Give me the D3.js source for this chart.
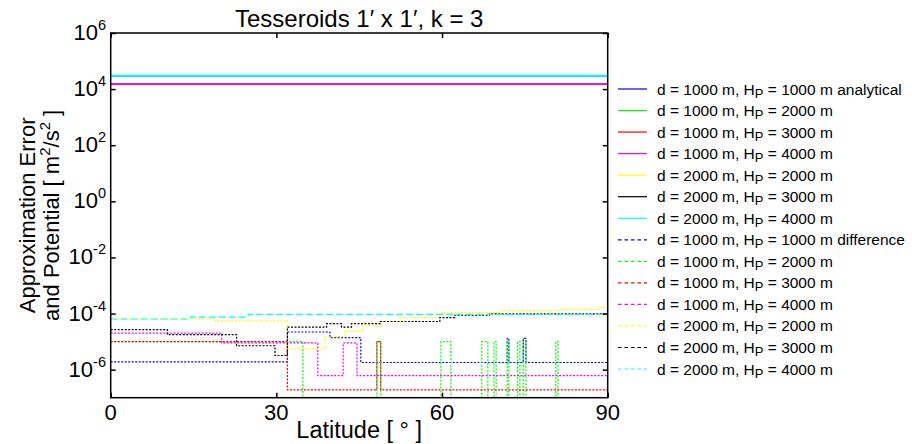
<!DOCTYPE html>
<html><head><meta charset="utf-8">
<script src="https://cdn.jsdelivr.net/npm/d3@7"></script>
<style>
body{margin:0;background:#fff}
svg{display:block;font-family:"Liberation Sans",Arial,sans-serif}
</style>
</head><body>
<svg id="c" width="912" height="444"></svg>
<script>
// ---------- data (latitude breakpoints in degrees, values in m^2/s^2) ----------
const xTicks = [0, 30, 60, 90];
const yTickExps = [-6, -4, -2, 0, 2, 4, 6];

const potLat = [0, 90];
const potD1000 = [1.5e4, 1.5e4];
const potD2000 = [3.0e4, 3.0e4];

const blueLat = [0, 32.0, 39.7, 45.3, 71.8, 72.1, 74.7, 75.2, 90];
const blueVal = [1.9e-6, 2.2e-5, 1.38e-5, 1.8e-6, 1.3e-5, 1.8e-6, 1.3e-5, 1.8e-6, 0.9];

const greenLat = [0, 34.8, 48.2, 48.9, 59.8, 61.6, 67.2, 68.3, 69.4, 69.8, 71.8, 72.1, 73.7, 74.1, 74.7, 75.2, 80.6, 81.0, 90];
const greenVal = [1e-5, 1e-7, 1e-5, 1e-7, 1e-5, 1e-7, 1e-5, 1e-7, 1e-5, 1e-7, 1e-5, 1e-7, 1e-5, 1e-7, 1e-5, 1e-7, 1e-5, 1e-7, 1.0];

const redLat = [0, 32.0, 48.2, 48.9, 90];
const redVal = [1e-5, 1.9e-7, 1e-5, 1.9e-7, 1.0];

const magLat = [0, 20.1, 37.5, 42.1, 44.6, 90];
const magVal = [2.0e-5, 9e-6, 6.1e-7, 9e-6, 6.1e-7, 1.1];

const yelLat = [0, 18.9, 32.0, 38.8, 42.4, 45.7, 48.8, 52.4, 59.6, 70.5, 81.3, 88.6, 90];
const yelVal = [6.4e-5, 5.5e-5, 5.5e-6, 1.5e-5, 2.3e-5, 3.7e-5, 5.1e-5, 7.1e-5, 1.07e-4, 1.26e-4, 1.4e-4, 1.65e-4, 1.2];

const blkLat = [0, 10.25, 22.8, 29.75, 32.0, 39.1, 41.8, 43.6, 48.8, 59.6, 62.3, 68.6, 90];
const blkVal = [2.65e-5, 1.76e-5, 7.1e-6, 3.2e-6, 3.3e-5, 4.4e-5, 3.3e-5, 4.4e-5, 5.2e-5, 7.2e-5, 8.7e-5, 9.8e-5, 1.0];

const cyaLat = [0, 14.4, 24.9, 90];
const cyaVal = [6.4e-5, 7.5e-5, 9.3e-5, 1.0];

const colors = ["#0000ff", "#00ff00", "#ff0000", "#ff00ff", "#ffff00", "#000000", "#00ffff"];
const dNames = ["1000", "1000", "1000", "1000", "2000", "2000", "2000"];
const hNames = ["1000", "2000", "3000", "4000", "2000", "3000", "4000"];

// ---------- build series ----------
const zip = (a, b) => a.map((v, i) => [v, b[i]]);
const solidSeries = [
  zip(potLat, potD1000), zip(potLat, potD1000), zip(potLat, potD1000), zip(potLat, potD1000),
  zip(potLat, potD2000), zip(potLat, potD2000), zip(potLat, potD2000)
];
const errSeries = [
  zip(blueLat, blueVal), zip(greenLat, greenVal), zip(redLat, redVal), zip(magLat, magVal),
  zip(yelLat, yelVal), zip(blkLat, blkVal), zip(cyaLat, cyaVal)
];

const svg = d3.select("#c");
const L = 110.7, R = 607.7, T = 33, B = 397.7;
const x = d3.scaleLinear().domain([0, 90]).range([L, R]);
const y = d3.scaleLog().domain([1e-7, 1e6]).range([B, T]);

svg.append("defs").append("clipPath").attr("id", "clip")
  .append("rect").attr("x", L).attr("y", T).attr("width", R - L).attr("height", B - T);

const plot = svg.append("g").attr("clip-path", "url(#clip)");
const line = d3.line().x(d => x(d[0])).y(d => y(d[1])).curve(d3.curveStepAfter);

solidSeries.forEach((s, i) => {
  plot.append("path").attr("d", line(s)).attr("fill", "none")
    .attr("stroke", colors[i]).attr("stroke-width", i === 6 ? 2 : 1.5);
});
errSeries.forEach((s, i) => {
  plot.append("path").attr("d", line(s)).attr("fill", "none")
    .attr("stroke", colors[i]).attr("stroke-width", 1.2)
    .attr("stroke-dasharray", i === 6 ? "7,3" : "2,1.5");
});

// ---------- axes (box with inward ticks) ----------
const tickVals = yTickExps.map(e => Math.pow(10, e));
const axStyle = g => { g.selectAll("path").remove(); g.selectAll("line").attr("stroke", "#000").attr("stroke-width", 1.5); g.selectAll("text").remove(); };
svg.append("g").attr("transform", `translate(${L},0)`).call(d3.axisLeft(y).tickValues(tickVals).tickSize(-5)).call(axStyle);
svg.append("g").attr("transform", `translate(${R},0)`).call(d3.axisRight(y).tickValues(tickVals).tickSize(-5)).call(axStyle);
svg.append("g").attr("transform", `translate(0,${B})`).call(d3.axisBottom(x).tickValues(xTicks).tickSize(-5)).call(axStyle);
svg.append("g").attr("transform", `translate(0,${T})`).call(d3.axisTop(x).tickValues(xTicks).tickSize(-5)).call(axStyle);

svg.append("rect").attr("x", L).attr("y", T).attr("width", R - L).attr("height", B - T)
  .attr("fill", "none").attr("stroke", "#000").attr("stroke-width", 1.5);

// tick labels
xTicks.forEach(t => {
  svg.append("text").attr("x", x(t)).attr("y", B + 22).attr("text-anchor", "middle")
    .attr("font-size", 22).text(t);
});
yTickExps.forEach(e => {
  const t = svg.append("text").attr("x", 106).attr("y", y(Math.pow(10, e)) + 7)
    .attr("text-anchor", "end").attr("font-size", 22);
  t.append("tspan").text("10");
  t.append("tspan").attr("dy", -10).attr("font-size", 14.5).text(String(e));
});

// titles
svg.append("text").attr("x", (L + R) / 2).attr("y", 27).attr("text-anchor", "middle")
  .attr("font-size", 24).text("Tesseroids 1\u2032 x 1\u2032, k = 3");
svg.append("text").attr("x", (L + R) / 2).attr("y", 438).attr("text-anchor", "middle")
  .attr("font-size", 23.5).text("Latitude [ \u00b0 ]");
const yl = svg.append("g").attr("transform", `translate(0,${(T + B) / 2}) rotate(-90)`);
yl.append("text").attr("x", 0).attr("y", 35).attr("text-anchor", "middle").attr("font-size", 22)
  .text("Approximation Error");
const yl2 = yl.append("text").attr("x", 0).attr("y", 59).attr("text-anchor", "middle").attr("font-size", 22);
yl2.append("tspan").text("and Potential [ m");
yl2.append("tspan").attr("dy", -9).attr("font-size", 15).text("2");
yl2.append("tspan").attr("dy", 9).text("/s");
yl2.append("tspan").attr("dy", -9).attr("font-size", 15).text("2");
yl2.append("tspan").attr("dy", 9).text(" ]");

// ---------- legend ----------
const leg = svg.append("g");
const rowY = i => 89 + i * 21.54;
for (let k = 0; k < 14; k++) {
  const i = k % 7;
  const dashed = k >= 7;
  const yy = rowY(k);
  leg.append("line").attr("x1", 618).attr("x2", 647).attr("y1", yy).attr("y2", yy)
    .attr("stroke", colors[i]).attr("stroke-width", dashed ? 1.2 : 1.2)
    .attr("stroke-dasharray", dashed ? "3.5,3" : null);
  const t = leg.append("text").attr("x", 657).attr("y", yy + 5.5).attr("font-size", 15.5);
  t.append("tspan").text(`d = ${dNames[i]} m, H`);
  t.append("tspan").attr("dy", 3).attr("font-size", 13).text("P");
  let suffix = ` = ${hNames[i]} m`;
  if (k === 0) suffix += " analytical";
  if (k === 7) suffix += " difference";
  t.append("tspan").attr("dy", -3).text(suffix);
}
</script>
</body></html>
